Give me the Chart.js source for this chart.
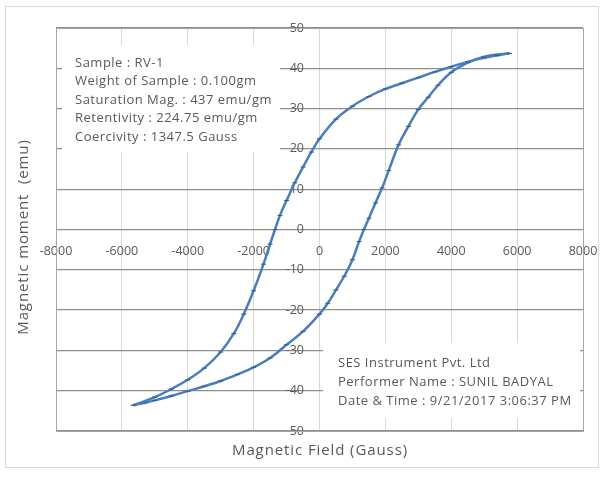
<!DOCTYPE html>
<html>
<head>
<meta charset="utf-8">
<script src="https://cdn.jsdelivr.net/npm/chart.js@4.4.1/dist/chart.umd.min.js"></script>
<style>
  html, body { margin: 0; padding: 0; background: #fff; }
</style>
</head>
<body>
<canvas id="chart" width="616" height="479"></canvas>
<script>
// field sweep from +H to -H (upper branch)
const fieldDown = [5760, 5400, 5000, 4500, 4000, 3500, 3000, 2500, 2000, 1500, 1000, 500, 0, -250, -500, -750, -1000, -1200, -1350, -1500, -1700, -2000, -2300, -2600, -3000, -3500, -4000, -4500, -5000, -5650];
const momentDown = [43.7, 43.2, 42.6, 41.6, 40.4, 39.1, 37.7, 36.3, 34.9, 33.0, 30.6, 27.4, 22.5, 19.2, 15.5, 11.6, 7.2, 3.5, 0, -3.6, -8.6, -15.2, -21.0, -25.8, -30.4, -34.4, -37.3, -39.6, -41.6, -43.6];

// field sweep from -H back to +H (lower branch)
const fieldUp = [-5650, -5300, -5000, -4500, -4000, -3500, -3000, -2500, -2000, -1500, -1000, -500, 0, 250, 500, 750, 1000, 1200, 1350, 1500, 1700, 1900, 2100, 2400, 2700, 3000, 3300, 3600, 4000, 4500, 5000, 5400, 5760];
const momentUp = [-43.6, -43.0, -42.4, -41.3, -40.1, -38.9, -37.6, -36.0, -34.2, -31.9, -28.6, -25.3, -21.0, -18.3, -15.0, -11.6, -7.5, -3.0, 0, 2.8, 6.6, 10.3, 14.6, 21.0, 25.6, 29.8, 32.8, 35.8, 39.0, 41.4, 42.9, 43.4, 43.7];

const xTicks = [-8000, -6000, -4000, -2000, 0, 2000, 4000, 6000, 8000];
const yTicks = [-50, -40, -30, -20, -10, 0, 10, 20, 30, 40, 50];

const infoLines = [
  "Sample : RV-1",
  "Weight of Sample : 0.100gm",
  "Saturation Mag. : 437 emu/gm",
  "Retentivity : 224.75 emu/gm",
  "Coercivity : 1347.5 Gauss"
];
const footerLines = [
  "SES Instrument Pvt. Ltd",
  "Performer Name : SUNIL BADYAL",
  "Date & Time : 9/21/2017 3:06:37 PM"
];

const xTitle = "Magnetic Field (Gauss)";
const yTitle = "Magnetic moment  (emu)";

const lineColor = "#4a7ebb";
const textColor = "#595959";
const font = "'Open Sans', 'Liberation Sans', sans-serif";

function toPoints(xs, ys) {
  return xs.map((x, i) => ({ x: x, y: ys[i] }));
}

// frame, text boxes, plot border and axis titles
const decor = {
  id: "decor",
  beforeDraw(chart) {
    const c = chart.ctx;
    c.save();
    c.fillStyle = "#fff";
    c.fillRect(0, 0, chart.width, chart.height);
    c.strokeStyle = "#d9d9d9";
    c.lineWidth = 1;
    c.strokeRect(5.5, 6.5, 593, 461);
    c.restore();
  },
  afterDraw(chart) {
    const c = chart.ctx;
    const a = chart.chartArea;
    c.save();
    c.fillStyle = "#fff";
    c.fillRect(62, 45, 218, 107);
    c.fillRect(323, 343, 257, 75);

    c.fillStyle = textColor;
    c.font = "13px " + font;
    c.letterSpacing = "0.5px";
    c.textAlign = "left";
    c.textBaseline = "middle";
    infoLines.forEach((t, i) => c.fillText(t, 75, 63 + i * 18.5));
    footerLines.forEach((t, i) => c.fillText(t, 338, 363 + i * 19));

    c.strokeStyle = "#a6a6a6";
    c.lineWidth = 1;
    c.strokeRect(Math.round(a.left) + 0.5, Math.round(a.top) + 0.5, Math.round(a.right - a.left), Math.round(a.bottom - a.top));

    c.font = "15px " + font;
    c.letterSpacing = "0.9px";
    c.textAlign = "center";
    c.fillText(xTitle, 320, 451);
    c.translate(24, 237);
    c.rotate(-Math.PI / 2);
    c.fillText(yTitle, 0, 0);
    c.restore();
  }
};

const zeroSize = function (scale) {
  if (scale.isHorizontal()) scale.height = 0; else scale.width = 0;
  scale.paddingLeft = scale.paddingRight = scale.paddingTop = scale.paddingBottom = 0;
};

new Chart(document.getElementById("chart"), {
  type: "line",
  data: {
    datasets: [
      {
        label: "H down",
        data: toPoints(fieldDown, momentDown),
        borderColor: lineColor,
        borderWidth: 2.5,
        tension: 0.4,
        pointStyle: "line",
        pointRadius: 2.5,
        pointBorderColor: "#34598f",
        pointBorderWidth: 1,
        fill: false
      },
      {
        label: "H up",
        data: toPoints(fieldUp, momentUp),
        borderColor: lineColor,
        borderWidth: 2.5,
        tension: 0.4,
        pointStyle: "line",
        pointRadius: 2.5,
        pointBorderColor: "#34598f",
        pointBorderWidth: 1,
        fill: false
      }
    ]
  },
  options: {
    responsive: false,
    animation: false,
    layout: { padding: { left: 56, right: 33, top: 28, bottom: 48 } },
    plugins: {
      legend: { display: false },
      tooltip: { enabled: false }
    },
    scales: {
      x: {
        type: "linear",
        position: { y: 0 },
        min: -8000,
        max: 8000,
        afterBuildTicks: s => { s.ticks = xTicks.map(v => ({ value: v })); },
        afterFit: zeroSize,
        ticks: {
          autoSkip: false,
          maxRotation: 0,
          padding: 14,
          color: textColor,
          font: { family: font, size: 12.5 },
          callback: v => String(v)
        },
        grid: { color: "#d9d9d9", lineWidth: 1, drawTicks: false },
        border: { display: true, color: "#8f8f8f", width: 1 }
      },
      y: {
        type: "linear",
        // labels sit a little left of the x = 0 line, which comes from the x grid
        position: { x: -470 },
        min: -50,
        max: 50,
        afterBuildTicks: s => { s.ticks = yTicks.map(v => ({ value: v })); },
        afterFit: zeroSize,
        ticks: {
          autoSkip: false,
          color: textColor,
          font: { family: font, size: 12.5 },
          callback: v => String(v)
        },
        grid: { color: "#8f8f8f", lineWidth: 1.2, drawTicks: false },
        border: { display: false }
      }
    }
  },
  plugins: [decor]
});
</script>
</body>
</html>
